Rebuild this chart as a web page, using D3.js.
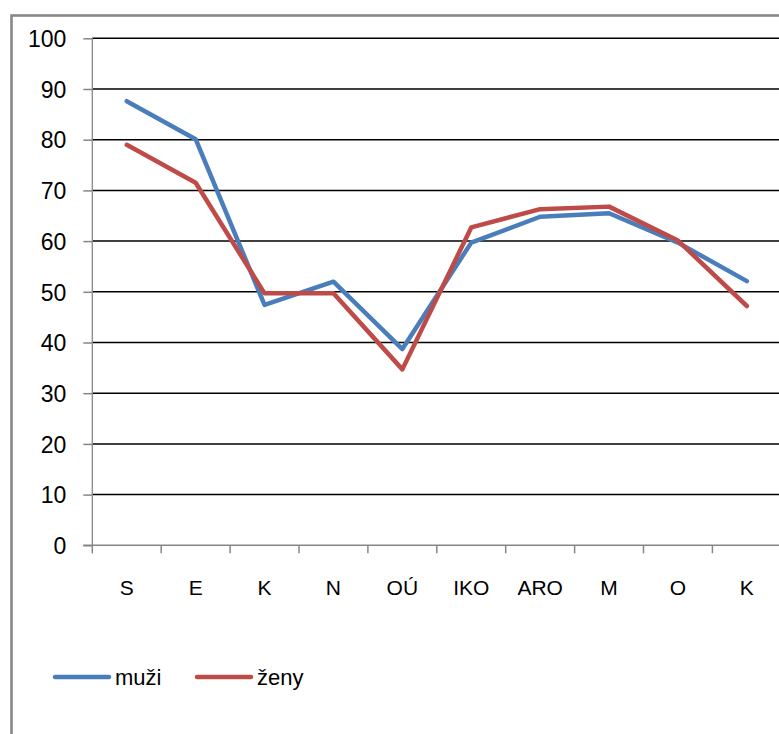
<!DOCTYPE html>
<html>
<head>
<meta charset="utf-8">
<script src="https://cdn.jsdelivr.net/npm/d3@7"></script>
<style>
  html, body { margin: 0; padding: 0; background: #fff; }
  svg { display: block; }
  text { font-family: "Liberation Sans", Arial, sans-serif; fill: #000; }
</style>
</head>
<body>
<svg id="chart" width="779" height="734"></svg>
<script>
const categories = ["S", "E", "K", "N", "OÚ", "IKO", "ARO", "M", "O", "K"];
const muzi = [87.6, 80.1, 47.4, 52.0, 38.7, 59.7, 64.8, 65.5, 59.7, 52.1];
const zeny = [79.0, 71.5, 49.7, 49.7, 34.7, 62.7, 66.3, 66.8, 60.1, 47.2];
const yTicks = [0, 10, 20, 30, 40, 50, 60, 70, 80, 90, 100];
const seriesNames = ["muži", "ženy"];
const seriesColors = ["#4a7ebb", "#be4b48"];

const svg = d3.select("#chart");
const W = 779, H = 734;

// outer frame
svg.append("rect").attr("x", 11.5).attr("y", 15.5).attr("width", 900).attr("height", 900)
  .attr("fill", "none").attr("stroke", "#888").attr("stroke-width", 2.6);

const x0 = 92.3, x1 = 92.3 + 68.9 * categories.length;
const x = d3.scaleBand().domain(d3.range(categories.length)).range([x0, x1]).padding(0);
const y = d3.scaleLinear().domain([0, 100]).range([545.3, 38.3]);

// gridlines
svg.append("g").selectAll("line").data(yTicks.filter(d => d > 0)).join("line")
  .attr("x1", x0).attr("x2", W + 5)
  .attr("y1", d => y(d)).attr("y2", d => y(d))
  .attr("stroke", "#000").attr("stroke-width", 1.5);

// y axis
const yAxis = d3.axisLeft(y).tickValues(yTicks).tickSize(9).tickPadding(0).tickFormat(d3.format("d"));
const gy = svg.append("g").attr("transform", `translate(${x0},0)`).call(yAxis);
gy.select(".domain").attr("stroke", "#868686").attr("stroke-width", 1.3).attr("d", `M0,${y(100)}V${y(0)}`);
gy.selectAll(".tick line").attr("stroke", "#868686").attr("stroke-width", 1.5);
gy.selectAll(".tick text").attr("x", -26).attr("dy", "0.36em")
  .style("font-size", "23px").style("font-family", "Liberation Sans, Arial, sans-serif").attr("fill", "#000");

// x axis
const gx = svg.append("g");
gx.append("line").attr("x1", x0 - 9).attr("x2", W + 5).attr("y1", y(0)).attr("y2", y(0))
  .attr("stroke", "#868686").attr("stroke-width", 1.5);
gx.selectAll("line.tk").data(d3.range(categories.length + 1)).join("line").attr("class", "tk")
  .attr("x1", i => x0 + i * x.bandwidth()).attr("x2", i => x0 + i * x.bandwidth())
  .attr("y1", y(0)).attr("y2", y(0) + 8)
  .attr("stroke", "#868686").attr("stroke-width", 1.5);
gx.selectAll("text").data(categories).join("text")
  .attr("x", (d, i) => x(i) + x.bandwidth() / 2).attr("y", 595)
  .attr("text-anchor", "middle").style("font-size", "21px").text(d => d);

// lines
const line = d3.line().x((d, i) => x(i) + x.bandwidth() / 2).y(d => y(d));
[muzi, zeny].forEach((s, k) => {
  svg.append("path").datum(s).attr("d", line)
    .attr("fill", "none").attr("stroke", seriesColors[k]).attr("stroke-width", 4.5)
    .attr("stroke-linejoin", "round").attr("stroke-linecap", "round");
});

// legend
const legX = [55, 197];
seriesNames.forEach((n, k) => {
  svg.append("line").attr("x1", legX[k]).attr("x2", legX[k] + 54).attr("y1", 677).attr("y2", 677)
    .attr("stroke", seriesColors[k]).attr("stroke-width", 4.5).attr("stroke-linecap", "round");
  svg.append("text").attr("x", legX[k] + 60).attr("y", 685).style("font-size", "22px").text(n);
});
</script>
</body>
</html>
